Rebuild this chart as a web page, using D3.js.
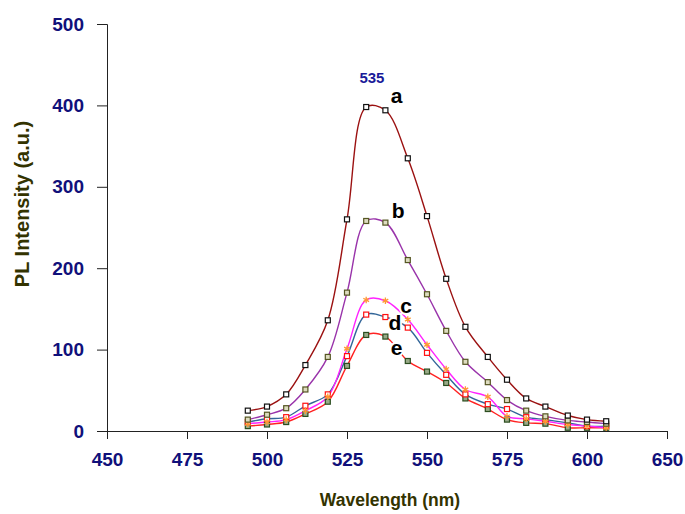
<!DOCTYPE html>
<html>
<head>
<meta charset="utf-8">
<script src="https://cdn.jsdelivr.net/npm/d3@7"></script>
<style>
  html, body { margin: 0; padding: 0; background: #fff; }
  svg { display: block; }
</style>
</head>
<body>
<div id="chart"></div>
<script>
// wavelengths (nm) of the measured points
const wavelengths = [494, 500, 506, 512, 519, 525, 531, 537, 544, 550, 556, 562, 569, 575, 581, 587, 594, 600, 606];

// PL intensity per sample
const seriesA = [25, 30, 45, 81, 136, 260, 398, 394, 335, 264, 187, 128, 91, 63, 40, 30, 19, 14, 12];
const seriesB = [14, 20, 28, 51, 91, 170, 258, 256, 210, 168, 123, 85, 60, 38, 25, 18, 13, 11, 9];
const seriesC = [9, 11, 14, 25, 42, 101, 161, 160, 137, 106, 76, 51, 42, 18, 15, 12, 8, 6, 4];
const seriesD = [11, 15, 17, 31, 45, 92, 143, 140, 127, 96, 69, 45, 33, 27, 17, 14, 10, 6, 6];
const seriesE = [6, 8, 11, 21, 36, 80, 118, 116, 86, 73, 59, 40, 27, 14, 10, 9, 4, 4, 4];

const seriesNames = ["a", "b", "c", "d", "e"];

// axis ticks (the last tick is labelled 650 in the original)
const xTickValues = [450, 475, 500, 525, 550, 575, 600, 625];
const xTickLabels = ["450", "475", "500", "525", "550", "575", "600", "650"];
const yTickValues = [0, 100, 200, 300, 400, 500];

const peakLabel = "535";

const W = 685, H = 514;
const plot = { left: 107, right: 667, top: 24, bottom: 431 };

const svg = d3.select("#chart").append("svg")
    .attr("width", W)
    .attr("height", H);

svg.append("rect").attr("width", W).attr("height", H).attr("fill", "#fff");

const x = d3.scaleLinear().domain([450, 625]).range([plot.left, plot.right]);
const y = d3.scaleLinear().domain([0, 500]).range([plot.bottom, plot.top]);

const tickFont = "bold 19px 'Liberation Sans', Arial, sans-serif";

// y axis
const yAxisG = svg.append("g")
    .attr("transform", `translate(${plot.left},0)`)
    .call(d3.axisLeft(y).tickValues(yTickValues).tickSize(10).tickPadding(13));
yAxisG.select(".domain").attr("stroke", "#222");
yAxisG.selectAll(".tick line").attr("stroke", "#222");
yAxisG.selectAll(".tick text")
    .style("font", tickFont)
    .attr("fill", "#10107a");

// x axis
const xAxisG = svg.append("g")
    .attr("transform", `translate(0,${plot.bottom})`)
    .call(d3.axisBottom(x).tickValues(xTickValues).tickSize(8).tickPadding(14)
        .tickFormat((d, i) => xTickLabels[i]));
xAxisG.select(".domain").attr("stroke", "#222");
xAxisG.selectAll(".tick line").attr("stroke", "#222");
xAxisG.selectAll(".tick text")
    .style("font", tickFont)
    .attr("fill", "#10107a");

// axis titles
svg.append("text")
    .attr("x", 390)
    .attr("y", 506)
    .attr("text-anchor", "middle")
    .style("font", "bold 17.5px 'Liberation Sans', Arial, sans-serif")
    .attr("fill", "#333300")
    .text("Wavelength (nm)");

svg.append("text")
    .attr("transform", "translate(29,204) rotate(-90)")
    .attr("text-anchor", "middle")
    .style("font", "bold 20px 'Liberation Sans', Arial, sans-serif")
    .attr("fill", "#333300")
    .text("PL Intensity (a.u.)");

// series styles
const styles = {
    a: { line: "#9b1111", marker: "square", mstroke: "#111", mfill: "#fff" },
    b: { line: "#9933aa", marker: "square", mstroke: "#555522", mfill: "#dddcc0" },
    c: { line: "#ff22ff", marker: "asterisk", mstroke: "#ff9933", mfill: "none" },
    d: { line: "#336699", marker: "square", mstroke: "#ff1111", mfill: "#fff" },
    e: { line: "#ff2222", marker: "square", mstroke: "#2b4d1f", mfill: "#99aa88" }
};

const seriesValues = [seriesA, seriesB, seriesC, seriesD, seriesE];
const series = seriesNames.map((name, i) => ({
    name,
    points: wavelengths.map((w, j) => ({ w, v: seriesValues[i][j] }))
}));

const line = d3.line()
    .x(d => x(d.w))
    .y(d => y(d.v))
    .curve(d3.curveCatmullRom.alpha(0.5));

// draw back to front: e first, a last
const drawOrder = series.slice().reverse();

const linesG = svg.append("g");
linesG.selectAll("path")
    .data(drawOrder)
    .enter()
    .append("path")
    .attr("d", d => line(d.points))
    .attr("fill", "none")
    .attr("stroke", d => styles[d.name].line)
    .attr("stroke-width", 1.4);

const markersG = svg.append("g");
drawOrder.forEach(s => {
    const st = styles[s.name];
    const g = markersG.append("g");
    if (st.marker === "square") {
        g.selectAll("rect")
            .data(s.points)
            .enter()
            .append("rect")
            .attr("x", d => x(d.w) - 2.5)
            .attr("y", d => y(d.v) - 2.5)
            .attr("width", 5)
            .attr("height", 5)
            .attr("fill", st.mfill)
            .attr("stroke", st.mstroke)
            .attr("stroke-width", 1.2);
    } else {
        g.selectAll("path")
            .data(s.points)
            .enter()
            .append("path")
            .attr("transform", d => `translate(${x(d.w)},${y(d.v)})`)
            .attr("d", d3.symbol(d3.symbolAsterisk, 30))
            .attr("fill", "none")
            .attr("stroke", st.mstroke)
            .attr("stroke-width", 1.3);
    }
});

// series letters, placed in data units
const letterPos = { a: [540.5, 403], b: [541, 262], c: [543.5, 145], d: [540, 124], e: [540.5, 93] };
const labelsG = svg.append("g");
labelsG.selectAll("text")
    .data(seriesNames)
    .enter()
    .append("text")
    .attr("x", d => x(letterPos[d][0]))
    .attr("y", d => y(letterPos[d][1]))
    .attr("text-anchor", "middle")
    .style("font", "bold 21px 'Liberation Sans', Arial, sans-serif")
    .attr("fill", "#000")
    .attr("stroke", "#fff")
    .attr("stroke-width", 4)
    .attr("paint-order", "stroke")
    .text(d => d);

// peak annotation
svg.append("text")
    .attr("x", x(532.8))
    .attr("y", y(427))
    .attr("text-anchor", "middle")
    .style("font", "bold 15px 'Liberation Sans', Arial, sans-serif")
    .attr("fill", "#1a1a99")
    .text(peakLabel);
</script>
</body>
</html>
